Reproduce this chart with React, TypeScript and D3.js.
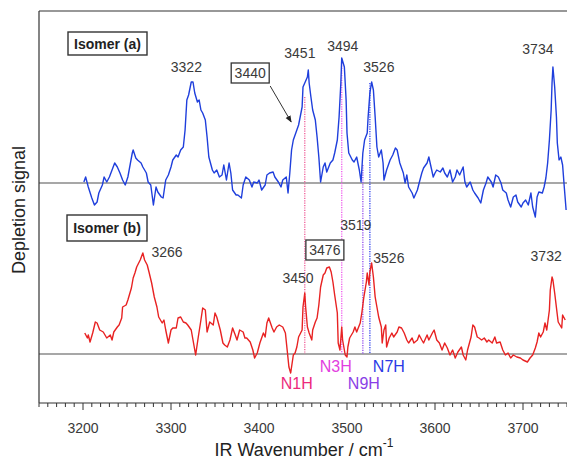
import React from "react";
import * as d3 from "d3";

// ---------- data ----------
const isomerAWavenumber = [3201,3203,3206,3210,3213,3216,3218,3222,3224,3227,3230,3233,3236,3239,3242,3245,3248,3251,3256,3257,3260,3262,3266,3268,3272,3274,3277,3280,3283,3285,3289,3291,3294,3297,3300,3302,3306,3308,3311,3314,3316,3318,3320,3323,3325,3327,3330,3332,3334,3336,3339,3341,3343,3347,3349,3352,3355,3358,3360,3363,3366,3368,3370,3374,3376,3380,3382,3385,3389,3392,3394,3398,3400,3403,3407,3409,3412,3416,3418,3422,3425,3427,3431,3433,3435,3437,3439,3441,3443,3445,3449,3450,3452,3455,3456,3457,3459,3461,3464,3466,3468,3470,3473,3475,3477,3481,3484,3486,3489,3491,3493,3494,3497,3499,3500,3502,3506,3508,3511,3514,3516,3518,3520,3523,3524,3526,3528,3530,3532,3534,3536,3539,3541,3542,3545,3549,3552,3555,3557,3560,3564,3566,3568,3570,3574,3576,3580,3582,3585,3587,3591,3593,3595,3598,3600,3602,3606,3609,3611,3614,3617,3620,3623,3625,3628,3632,3634,3636,3640,3643,3645,3649,3652,3655,3658,3660,3664,3666,3669,3672,3675,3677,3681,3683,3686,3689,3692,3694,3698,3700,3703,3706,3709,3711,3714,3716,3718,3722,3724,3726,3728,3730,3732,3733,3734,3736,3738,3739,3741,3743,3745,3747,3749];
const isomerASignal = [0.1,0.6,-0.4,-1.5,-2.2,-1.9,-1.0,-0.2,0.6,0.1,0.6,1.3,2.0,1.6,1.0,0.3,-0.2,0.6,3.0,3.3,2.5,2.3,2.0,1.6,1.0,0.1,-0.2,-2.2,-0.4,-0.9,-1.4,-1.5,0.3,0.8,1.6,2.3,2.8,2.6,3.3,3.6,5.3,8.3,8.8,10.1,10.1,9.0,8.1,8.3,7.3,7.0,6.3,4.6,2.6,1.3,1.0,1.3,0.6,0.8,1.8,0.3,2.0,1.0,-0.7,-1.2,-1.2,-1.5,-0.2,0.6,0.3,-0.4,0.1,0.0,0.3,-0.7,-0.2,0.8,1.0,1.1,0.6,0.1,-0.4,0.3,0.6,-1.0,1.0,3.3,4.3,4.8,5.3,5.8,7.6,9.6,10.0,10.6,11.3,10.0,8.6,7.3,6.3,4.6,2.6,0.1,1.6,2.0,1.1,2.0,2.3,3.0,4.3,6.6,10.0,12.5,11.6,8.3,5.0,3.0,2.3,2.1,2.6,1.3,0.1,3.0,4.3,5.0,6.6,9.0,10.1,9.3,6.6,3.6,2.6,3.3,2.0,0.3,1.3,2.3,2.8,3.5,3.3,2.0,1.0,0.0,0.8,-0.4,-1.0,-1.5,-0.7,0.0,1.0,1.5,2.0,2.6,1.8,0.6,1.0,1.3,1.1,1.5,1.0,0.6,1.3,0.1,0.6,1.3,0.8,1.6,0.1,-0.4,0.1,-0.7,-1.0,-1.5,-2.0,-0.7,0.0,0.6,0.1,-0.4,0.8,0.6,0.0,-0.7,-1.0,-1.7,-2.4,-1.4,-1.2,-1.9,-2.4,-2.0,-1.7,-2.2,-1.0,-2.4,-3.4,-1.4,-0.9,-1.0,-0.4,0.5,2.0,4.3,7.3,10.0,11.6,9.6,6.6,4.0,2.3,2.6,1.8,-0.5,-2.7];

const isomerBWavenumber = [3202,3205,3206,3208,3211,3214,3216,3219,3223,3225,3227,3231,3233,3235,3239,3241,3244,3245,3249,3251,3255,3257,3259,3261,3265,3268,3270,3273,3275,3278,3281,3284,3286,3290,3292,3294,3297,3300,3302,3306,3308,3311,3314,3317,3319,3323,3325,3328,3331,3334,3336,3339,3341,3344,3348,3350,3352,3356,3359,3361,3364,3367,3370,3373,3375,3378,3382,3384,3386,3390,3393,3395,3398,3401,3405,3407,3409,3411,3415,3417,3420,3423,3427,3430,3432,3434,3436,3439,3441,3443,3445,3449,3450,3452,3453,3455,3457,3460,3461,3464,3466,3468,3470,3473,3475,3477,3480,3482,3484,3486,3489,3490,3492,3494,3495,3498,3500,3501,3503,3507,3509,3511,3515,3517,3519,3522,3523,3525,3526,3528,3530,3532,3534,3536,3539,3540,3542,3544,3545,3548,3551,3553,3557,3559,3562,3565,3568,3570,3574,3576,3580,3582,3585,3587,3591,3593,3597,3599,3602,3605,3608,3611,3614,3617,3620,3623,3626,3630,3632,3635,3637,3641,3643,3645,3648,3650,3653,3656,3659,3661,3665,3668,3670,3674,3677,3680,3683,3686,3689,3693,3697,3700,3705,3708,3711,3714,3716,3718,3720,3723,3725,3727,3730,3731,3733,3734,3736,3739,3740,3742,3744,3745,3748];
const isomerBSignal = [2.1,1.6,1.9,1.2,2.1,3.2,3.1,2.4,2.2,1.9,1.6,1.9,1.4,2.2,2.7,2.9,3.6,4.7,4.9,5.4,6.6,7.6,8.1,8.7,9.4,10.1,9.4,8.9,8.2,7.1,5.7,4.7,3.7,3.1,3.4,2.4,1.1,2.4,2.6,2.6,3.6,3.7,3.2,3.1,2.9,2.4,1.4,-0.1,1.7,3.4,4.6,4.4,2.2,3.2,2.9,4.1,3.7,2.4,1.1,0.9,0.7,1.4,2.6,1.9,1.4,2.4,2.2,1.6,1.6,1.2,0.4,-0.4,0.1,1.1,2.1,1.7,3.1,3.6,2.6,2.2,2.7,2.9,2.7,2.1,0.4,-1.3,-1.9,-0.1,0.1,0.7,1.7,2.4,4.7,6.1,4.7,2.7,2.1,1.4,2.4,3.2,3.6,4.9,6.7,7.9,8.1,8.6,8.7,8.2,7.2,5.9,4.1,1.1,0.4,2.7,1.4,-0.1,-0.3,0.7,1.6,2.2,2.7,2.2,3.1,4.2,5.6,7.2,8.1,6.9,8.2,9.1,7.7,5.7,4.7,3.7,2.7,1.1,2.4,2.9,0.7,1.6,2.1,1.7,2.2,2.7,2.6,2.1,1.4,1.1,1.6,1.1,1.4,1.9,1.4,1.1,1.9,1.4,2.1,2.4,1.4,1.1,0.4,1.1,0.6,-0.1,0.4,-0.4,0.2,0.7,-0.1,-0.6,0.4,1.7,2.9,2.7,1.7,1.6,1.4,1.6,1.2,1.4,1.1,1.7,1.1,1.2,0.4,-0.1,0.1,-0.4,-0.1,-0.3,-0.4,-0.6,-0.8,-0.4,-0.1,0.6,1.2,2.1,1.7,2.2,3.1,2.4,4.4,6.4,7.7,7.4,6.1,3.9,3.2,2.9,2.6,3.9,3.4];

const xTickValues = [3200, 3300, 3400, 3500, 3600, 3700];
const modeNames = ["N1H", "N3H", "N9H", "N7H"];
const modeWavenumbers = [3452, 3494, 3518, 3526];
const modeTops = [25.7, 29.1, 18.9, 27.1];
const peakLabelsA = ["3322", "3451", "3494", "3526", "3734"];
const peakLabelsB = ["3266", "3450", "3519", "3526", "3732"];

// ---------- layout ----------
const W = 567, H = 461;
const L = 39, R = 567, T = 11, B = 403;
const offsetA = 17.1;

export default function App() {
  const x = d3.scaleLinear().domain([3150, 3750]).range([L, R]);
  const y = d3.scaleLinear().domain([-4.9, 34.3]).range([B, T]);

  const dataA = d3.zip(isomerAWavenumber, isomerASignal);
  const dataB = d3.zip(isomerBWavenumber, isomerBSignal);
  const lineA = d3.line<number[]>().x(d => x(d[0])).y(d => y(d[1] + offsetA));
  const lineB = d3.line<number[]>().x(d => x(d[0])).y(d => y(d[1]));

  const minor = d3.range(3150, 3751, 10);
  const font = "'Liberation Sans', Arial, sans-serif";
  const textCol = "#3a3a3a";

  const modeColors = ["#ec2a7c", "#e23ee0", "#8a3ee6", "#2a3ae6"];
  const lineColors = ["#f06aa0", "#f064ee", "#9a58ee", "#3c4cee"];
  const modeLabelPos = [
    { dx: -8, y: 389 },
    { dx: -6, y: 372 },
    { dx: 1, y: 389 },
    { dx: 19, y: 372 },
  ];
  const peakPosA = [
    { v: 3322, dx: -4, y: 72 },
    { v: 3451, dx: -4, y: 58 },
    { v: 3494, dx: 1, y: 51 },
    { v: 3526, dx: 9, y: 72 },
    { v: 3734, dx: -15, y: 54 },
  ];
  const peakPosB = [
    { v: 3266, dx: 26, y: 257 },
    { v: 3450, dx: -5, y: 283 },
    { v: 3519, dx: -8, y: 230 },
    { v: 3526, dx: 19, y: 263 },
    { v: 3732, dx: -5, y: 261 },
  ];

  const box3440x = x(3440) - 44;
  const box3476x = x(3476) - 1;

  return (
    <svg width={W} height={H} style={{ position: "absolute", left: 0, top: 0, background: "#fff" }} fontFamily={font}>
      <defs>
        <marker id="arr" viewBox="0 0 10 10" refX="9" refY="5" markerWidth="7" markerHeight="7" orient="auto">
          <path d="M0,1 L10,5 L0,9 z" fill="#222" />
        </marker>
      </defs>

      {/* baselines */}
      <line x1={L} x2={R} y1={y(offsetA)} y2={y(offsetA)} stroke="#8a8a8a" strokeWidth={1.5} />
      <line x1={L} x2={R} y1={y(0)} y2={y(0)} stroke="#8a8a8a" strokeWidth={1.5} />

      {/* mode dotted lines */}
      {modeWavenumbers.map((w, i) => (
        <line key={i} x1={x(w)} x2={x(w)} y1={y(modeTops[i])} y2={y(0)} stroke={lineColors[i]}
          strokeWidth={1.4} strokeDasharray="1.2,1.2" />
      ))}

      {/* spectra */}
      <path d={lineA(dataA) || ""} fill="none" stroke="#1f3fdc" strokeWidth={1.4} strokeLinejoin="round" />
      <path d={lineB(dataB) || ""} fill="none" stroke="#e82222" strokeWidth={1.4} strokeLinejoin="round" />

      {/* frame */}
      <line x1={L} x2={L} y1={T} y2={B} stroke="#333" strokeWidth={1.2} />
      <line x1={L} x2={R} y1={T} y2={T} stroke="#333" strokeWidth={1.2} />
      <line x1={L} x2={R} y1={B} y2={B} stroke="#333" strokeWidth={1.2} />

      {/* ticks */}
      {minor.map(v => (
        <line key={v} x1={x(v)} x2={x(v)} y1={B} y2={B + (v % 100 === 0 ? 7 : 4)} stroke="#333" strokeWidth={1} />
      ))}
      {xTickValues.map(v => (
        <text key={v} x={x(v)} y={433} textAnchor="middle" fontSize={14} fill={textCol}>{v}</text>
      ))}

      {/* axis titles */}
      <text x={304} y={456} textAnchor="middle" fontSize={18} fill="#222">
        IR Wavenumber / cm<tspan dy={-9} fontSize={12}>-1</tspan>
      </text>
      <text transform="translate(25,210) rotate(-90)" textAnchor="middle" fontSize={18} fill="#222">Depletion signal</text>

      {/* isomer boxes */}
      <rect x={68} y={32} width={79} height={23} fill="#fff" stroke="#333" strokeWidth={1.4} />
      <text x={107.5} y={49} textAnchor="middle" fontSize={14} fontWeight="bold" fill="#222">Isomer (a)</text>
      <rect x={67} y={215} width={80} height={26} fill="#fff" stroke="#333" strokeWidth={1.4} />
      <text x={107} y={233} textAnchor="middle" fontSize={14} fontWeight="bold" fill="#222">Isomer (b)</text>

      {/* peak labels */}
      {peakPosA.map((p, i) => (
        <text key={"a" + i} x={x(p.v) + p.dx} y={p.y} textAnchor="middle" fontSize={14} fill={textCol}>{peakLabelsA[i]}</text>
      ))}
      {peakPosB.map((p, i) => (
        <text key={"b" + i} x={x(p.v) + p.dx} y={p.y} textAnchor="middle" fontSize={14} fill={textCol}>{peakLabelsB[i]}</text>
      ))}

      {/* boxed labels */}
      <rect x={box3440x - 19} y={63} width={38} height={20} fill="#fff" stroke="#333" strokeWidth={1.3} />
      <text x={box3440x} y={78} textAnchor="middle" fontSize={14} fill={textCol}>3440</text>
      <line x1={box3440x + 20} y1={86} x2={x(3440) - 3} y2={y(6.1 + offsetA)} stroke="#333" strokeWidth={1} markerEnd="url(#arr)" />
      <rect x={box3476x - 19} y={240} width={38} height={20} fill="#fff" stroke="#333" strokeWidth={1.3} />
      <text x={box3476x} y={255} textAnchor="middle" fontSize={14} fill={textCol}>3476</text>

      {/* mode labels */}
      {modeNames.map((n, i) => (
        <text key={n} x={x(modeWavenumbers[i]) + modeLabelPos[i].dx} y={modeLabelPos[i].y} textAnchor="middle"
          fontSize={16} fill={modeColors[i]}>{n}</text>
      ))}
    </svg>
  );
}
